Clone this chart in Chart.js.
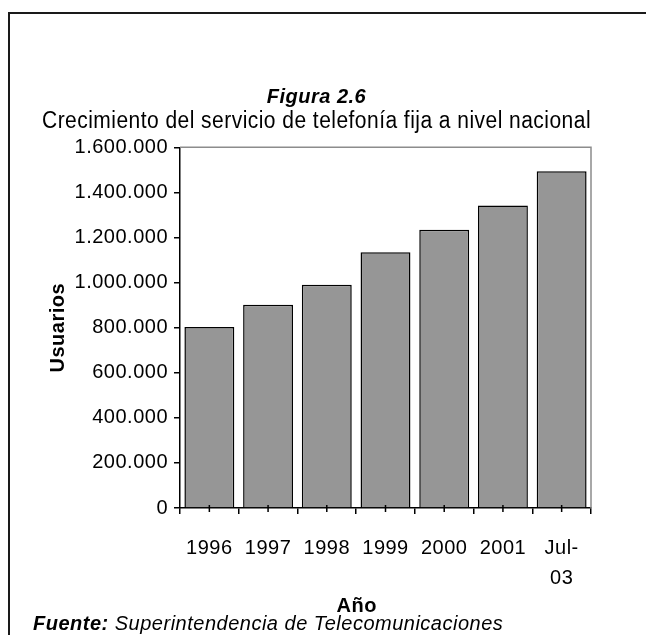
<!DOCTYPE html>
<html>
<head>
<meta charset="utf-8">
<script src="https://cdn.jsdelivr.net/npm/chart.js@4"></script>
<style>
	body { margin: 0; background: #fff; overflow: hidden; }
	.marco {
		position: absolute; left: 8px; top: 12px;
		width: 700px; height: 700px;
		border: 2px solid #1a1a1a;
	}
	#grafico { position: absolute; left: 0; top: 0; }
	.fuente {
		position: absolute; left: 33px; top: 612px;
		font: italic 20px 'Liberation Sans', Arial, sans-serif;
		letter-spacing: 0.5px;
		color: #000; white-space: nowrap;
	}
</style>
</head>
<body>
<div class="marco"></div>
<canvas id="grafico" width="646" height="635"></canvas>
<div class="fuente"><b>Fuente:</b> Superintendencia de Telecomunicaciones</div>
<script>
var listNam = ['1996', '1997', '1998', '1999', '2000', '2001', ['Jul-', '03']];
var listUsuarios = [803000, 902000, 990000, 1134000, 1234000, 1342000, 1494000];
var yMin = 0;
var yMax = 1600000;
var yBuoc = 200000;
var tieuDeX = 'Año';

var phongChu = "'Liberation Sans', Arial, sans-serif";

function dinhDangSo(value) {
	return String(value).replace(/\B(?=(\d{3})+(?!\d))/g, '.');
}

// chu trong hinh goc hoi gian ra
var gianChu = {
	id: 'gianChu',
	beforeUpdate(chart) { chart.ctx.letterSpacing = '0.5px'; },
	beforeDraw(chart) { chart.ctx.letterSpacing = '0.5px'; }
};

// vien xam o tren va ben phai vung ve
var vienVungVe = {
	id: 'vienVungVe',
	beforeDatasetsDraw(chart) {
		var ctx = chart.ctx;
		var a = chart.chartArea;
		ctx.save();
		ctx.strokeStyle = '#8c8c8c';
		ctx.lineWidth = 1.5;
		ctx.beginPath();
		ctx.moveTo(a.left, a.top);
		ctx.lineTo(a.right, a.top);
		ctx.lineTo(a.right, a.bottom);
		ctx.stroke();
		ctx.restore();
	}
};

// vach nho o giua moi cot + tieu de truc x (bi keo lech sang trai)
var vachGiua = {
	id: 'vachGiua',
	afterDraw(chart) {
		var ctx = chart.ctx;
		var x = chart.scales.x;
		ctx.save();
		ctx.strokeStyle = '#000';
		ctx.lineWidth = 1.5;
		ctx.beginPath();
		for (var i = 0; i < listNam.length; i++) {
			var px = x.getPixelForTick(i);
			ctx.moveTo(px, x.top - 3);
			ctx.lineTo(px, x.top + 4);
		}
		ctx.stroke();

		ctx.fillStyle = '#000';
		ctx.font = "bold 20px " + phongChu;
		ctx.textAlign = 'center';
		ctx.textBaseline = 'middle';
		ctx.fillText(tieuDeX, x.left + (x.right - x.left) * 0.43, x.bottom - 14);
		ctx.restore();
	}
};

var config = {
	type: 'bar',
	data: {
		labels: listNam,
		datasets: [
			{
				label: 'Usuarios',
				data: listUsuarios,
				backgroundColor: '#969696',
				borderColor: '#000',
				borderWidth: 1.5,
				barPercentage: 0.85,
				categoryPercentage: 1
			}
		]
	},
	options: {
		responsive: false,
		animation: false,
		devicePixelRatio: 1,
		layout: {
			padding: { left: 42, right: 55, top: 86, bottom: 15 }
		},
		plugins: {
			legend: { display: false },
			tooltip: { enabled: false },
			title: {
				display: true,
				text: 'Figura 2.6',
				color: '#000',
				font: { family: phongChu, size: 20, weight: 'bold', style: 'italic', lineHeight: 1.1 },
				padding: { top: 0, bottom: 1 }
			},
			subtitle: {
				display: true,
				text: 'Crecimiento del servicio de telefonía fija a nivel nacional',
				color: '#000',
				font: { family: phongChu, size: 23, lineHeight: 1.1 },
				padding: { top: 0, bottom: 13 }
			}
		},
		scales: {
			x: {
				offset: true,
				afterFit: (scale) => { scale.height = 112; },
				grid: {
					offset: true,
					drawOnChartArea: false,
					color: '#000',
					lineWidth: 1.5,
					tickLength: 6
				},
				border: { color: '#000', width: 1.5 },
				ticks: {
					color: '#000',
					font: { family: phongChu, size: 20, lineHeight: 1.5 },
					maxRotation: 0,
					autoSkip: false,
					padding: 19
				}
			},
			y: {
				min: yMin,
				max: yMax,
				afterFit: (scale) => { scale.width = 138; },
				grid: {
					drawOnChartArea: false,
					color: '#000',
					lineWidth: 1.5,
					tickLength: 6
				},
				border: { color: '#000', width: 1.5 },
				ticks: {
					stepSize: yBuoc,
					color: '#000',
					font: { family: phongChu, size: 20 },
					padding: 6,
					callback: (value) => dinhDangSo(value)
				},
				title: {
					display: true,
					text: 'Usuarios',
					color: '#000',
					font: { family: phongChu, size: 20, weight: 'bold' },
					padding: { top: 4, bottom: 4 }
				}
			}
		}
	},
	plugins: [gianChu, vienVungVe, vachGiua]
};

var bieuDo = new Chart(document.getElementById('grafico').getContext('2d'), config);
</script>
</body>
</html>
